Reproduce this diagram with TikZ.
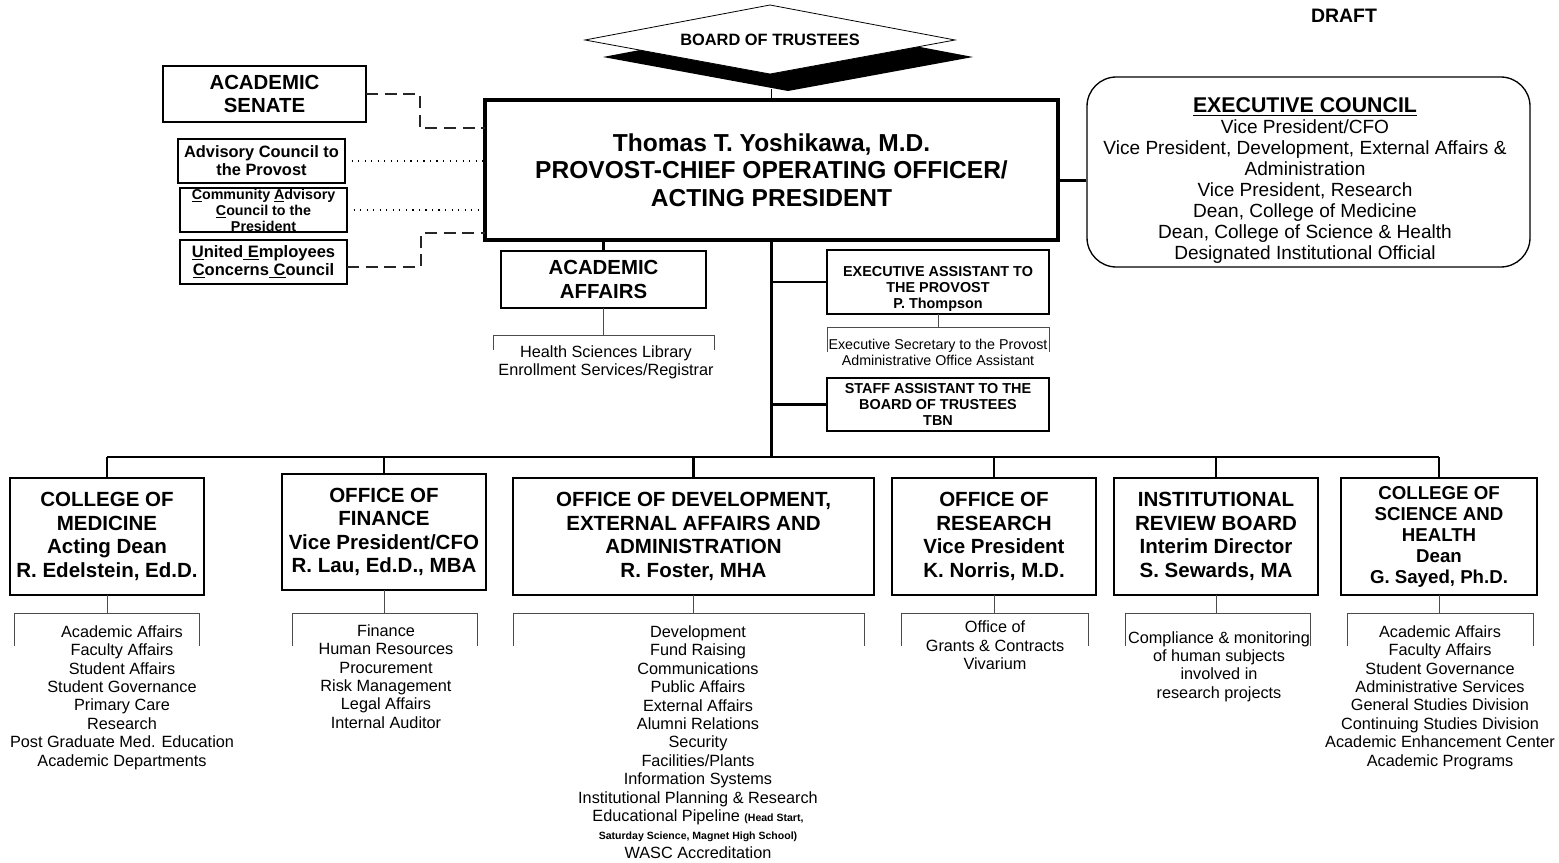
\documentclass[tikz,border=0pt]{standalone}
\usepackage{fontspec}
\setmainfont{Liberation Sans}
\usetikzlibrary{calc}

\tikzset{
    sz/.style 2 args={minimum width=#1*0.75pt, minimum height=#2*0.75pt},
    headbox/.style={draw, line width=2pt, align=center, inner sep=0pt, outer sep=0pt, font=\fontsize{15.4}{17.6}\selectfont\bfseries},
    thinbox/.style={draw, line width=1.1pt, align=center, inner sep=0pt, outer sep=0pt},
    listtxt/.style={align=center, inner sep=0pt, font=\fontsize{12.2}{13.8}\selectfont},
    orgbus/.style={line width=2.2pt},
    orgdrop/.style={line width=1.8pt},
    sublink/.style={line width=0.7pt, black!70},
    dashlink/.style={line width=1.1pt, dash pattern=on 9pt off 5pt, black!85},
    dotlink/.style={line width=0.9pt, dash pattern=on 0.9pt off 4pt}
}
\newcommand{\smallbold}{\fontsize{7.9}{9}\selectfont\bfseries}

\begin{document}
\begin{tikzpicture}[x=0.75pt,y=-0.75pt]
            \useasboundingbox (0,0) rectangle (1559,863);

            \node[font=\fontsize{14.6}{16}\selectfont\bfseries] (draft) at (1344,16) {DRAFT};

            % board of trustees
            \fill (603,57) -- (788,22) -- (973,57) -- (788,91) -- cycle;
            \draw[fill=white, line width=0.6pt] (585,40) -- (770,5) -- (955,40) -- (770,74) -- cycle;
            \node[font=\fontsize{12.3}{14}\selectfont\bfseries] (board) at (770,40) {BOARD OF TRUSTEES};
            \coordinate (boardtip) at (771.5,89);

            \node[draw, line width=3pt, sz={573}{140}, align=center, inner sep=0pt, outer sep=0pt, font=\fontsize{18.4}{20.6}\selectfont\bfseries] (provost) at (771.5,170) {Thomas T. Yoshikawa, M.D.\\PROVOST-CHIEF OPERATING OFFICER/\\ACTING PRESIDENT};
            \draw[line width=1.2pt] (boardtip) -- (provost.north);

            % left side
            \node[draw, line width=2pt, sz={203}{56}, align=center, inner sep=0pt, outer sep=0pt, font=\fontsize{15.3}{17.3}\selectfont\bfseries] (senate) at (264.5,94) {ACADEMIC\\SENATE};
            \node[thinbox, sz={167}{44}, font=\fontsize{12.3}{13.5}\selectfont\bfseries] (advisory) at (261.5,161) {Advisory Council to\\the Provost};
            \node[thinbox, sz={167}{44}, font=\fontsize{10.7}{12}\selectfont\bfseries] (community) at (263.5,210) {\underline{C}ommunity \underline{A}dvisory\\\underline{C}ouncil to the\\President};
            \node[thinbox, sz={167}{44}, font=\fontsize{12.4}{13.5}\selectfont\bfseries] (ueec) at (263.5,262) {\underline{U}nited\underline{\ E}mployees\\\underline{C}oncerns\underline{\ C}ouncil};

            \draw[dashlink] (senate.east) -- ++(54,0) |- ($(provost.west)+(0,-42)$);
            \draw[dotlink] (advisory.east) -- (advisory.east -| provost.west);
            \draw[dotlink] (community.east) -- (community.east -| provost.west);
            \draw[dashlink] ($(ueec.east)+(0,5)$) -- ++(74,0) |- ($(provost.west)+(0,63)$);

            % executive council
            \node[draw, line width=1pt, rounded corners=22pt, sz={443}{190}] (council) at (1308.5,172) {};
            \node[align=center, font=\fontsize{14.3}{15.75}\selectfont] (counciltxt) at (1305,181) {{\fontsize{16}{18}\selectfont\bfseries\underline{EXECUTIVE COUNCIL}}\\Vice President/CFO\\Vice President, Development, External Affairs \&\\Administration\\Vice President, Research\\Dean, College of Medicine\\Dean, College of Science \& Health\\Designated Institutional Official};
            \draw[line width=1.8pt] ([yshift=-8pt]provost.east) -- ([yshift=-8pt]provost.east -| council.west);

            % academic affairs
            \node[headbox, sz={205}{57}, font=\fontsize{15.3}{17.3}\selectfont\bfseries] (acad) at (603.5,279.5) {ACADEMIC\\AFFAIRS};
            \draw[orgdrop] (acad.north |- provost.south) -- (acad.north);
            \draw[sublink] (acad.south) -- ++(0,27) ++(-110,15) -- ++(0,-15) -- ++(221,0) -- ++(0,15);
            \node[listtxt] (acadlist) at (606,362) {Health Sciences Library\\Enrollment Services/Registrar};

            % trunk and assistants
            \draw[orgbus] (provost.south) -- ++(0,217) coordinate (hub);
            \node[thinbox, sz={222}{64}] (execasst) at (938,282) {};
            \node[align=center, font=\fontsize{10.8}{12}\selectfont\bfseries] (execasstxt) at (938,289) {EXECUTIVE ASSISTANT TO\\THE PROVOST\\P. Thompson};
            \draw[orgbus] (hub |- execasst.west) -- (execasst.west);
            \draw[sublink] (execasst.south) -- ++(0,13) ++(-111,25) -- ++(0,-25) -- ++(222,0) -- ++(0,25);
            \node[align=center, font=\fontsize{10.7}{12}\selectfont] (secretary) at (938,352) {Executive Secretary to the Provost\\Administrative Office Assistant};
            \node[thinbox, sz={222}{53}, font=\fontsize{10.8}{12}\selectfont\bfseries] (staff) at (938,404.5) {STAFF ASSISTANT TO THE\\BOARD OF TRUSTEES\\TBN};
            \draw[orgbus] (hub |- staff.west) -- (staff.west);

            % units
            \node[headbox, sz={194}{117}] (med) at (107,536.5) {COLLEGE OF\\MEDICINE\\Acting Dean\\R. Edelstein, Ed.D.};
            \node[headbox, sz={204}{116}] (fin) at (384,532) {OFFICE OF\\FINANCE\\Vice President/CFO\\R. Lau, Ed.D., MBA};
            \node[headbox, sz={361}{117}] (dev) at (693.5,536.5) {OFFICE OF DEVELOPMENT,\\EXTERNAL AFFAIRS AND\\ADMINISTRATION\\R. Foster, MHA};
            \node[headbox, sz={204}{117}] (res) at (994,536.5) {OFFICE OF\\RESEARCH\\Vice President\\K. Norris, M.D.};
            \node[headbox, sz={204}{117}] (irb) at (1216,536.5) {INSTITUTIONAL\\REVIEW BOARD\\Interim Director\\S. Sewards, MA};
            \node[headbox, sz={196}{117}, font=\fontsize{14}{15.75}\selectfont\bfseries] (csh) at (1439,536.5) {COLLEGE OF\\SCIENCE AND\\HEALTH\\Dean\\G. Sayed, Ph.D.};

            \draw[orgbus] (hub -| med.north) -- (hub -| csh.north);
            \draw[orgdrop] (hub -| med.north) -- (med.north);
            \draw[orgdrop] (hub -| fin.north) -- (fin.north);
            \draw[orgdrop] (hub -| dev.north) -- (dev.north);
            \draw[orgdrop] (hub -| res.north) -- (res.north);
            \draw[orgdrop] (hub -| irb.north) -- (irb.north);
            \draw[orgdrop] (hub -| csh.north) -- (csh.north);

            \draw[sublink] (med.south) -- ++(0,18) ++(-93,33) -- ++(0,-33) -- ++(185,0) -- ++(0,33);
            \draw[sublink] (fin.south) -- ++(0,23) ++(-92,33) -- ++(0,-33) -- ++(185,0) -- ++(0,33);
            \draw[sublink] (dev.south) -- ++(0,18) ++(-180,33) -- ++(0,-33) -- ++(351,0) -- ++(0,33);
            \draw[sublink] (res.south) -- ++(0,18) ++(-93,33) -- ++(0,-33) -- ++(187,0) -- ++(0,33);
            \draw[sublink] (irb.south) -- ++(0,18) ++(-91,33) -- ++(0,-33) -- ++(185,0) -- ++(0,33);
            \draw[sublink] (csh.south) -- ++(0,18) ++(-92,33) -- ++(0,-33) -- ++(186,0) -- ++(0,33);

            \node[listtxt] (medlist) at (122,697.5) {Academic Affairs\\Faculty Affairs\\Student Affairs\\Student Governance\\Primary Care\\Research\\Post Graduate Med. Education\\Academic Departments};
            \node[listtxt] (finlist) at (386,676.5) {Finance\\Human Resources\\Procurement\\Risk Management\\Legal Affairs\\Internal Auditor};
            \node[listtxt] (devlist) at (698,742) {Development\\Fund Raising\\Communications\\Public Affairs\\External Affairs\\Alumni Relations\\Security\\Facilities/Plants\\Information Systems\\Institutional Planning \& Research\\Educational Pipeline {\smallbold (Head Start,}\\{\smallbold Saturday Science, Magnet High School)}\\WASC Accreditation};
            \node[listtxt] (reslist) at (995,645.5) {Office of\\Grants \& Contracts\\Vivarium};
            \node[listtxt] (irblist) at (1219,666.5) {Compliance \& monitoring\\of human subjects\\involved in\\research projects};
            \node[listtxt] (cshlist) at (1440,697.5) {Academic Affairs\\Faculty Affairs\\Student Governance\\Administrative Services\\General Studies Division\\Continuing Studies Division\\Academic Enhancement Center\\Academic Programs};
\end{tikzpicture}
\end{document}
